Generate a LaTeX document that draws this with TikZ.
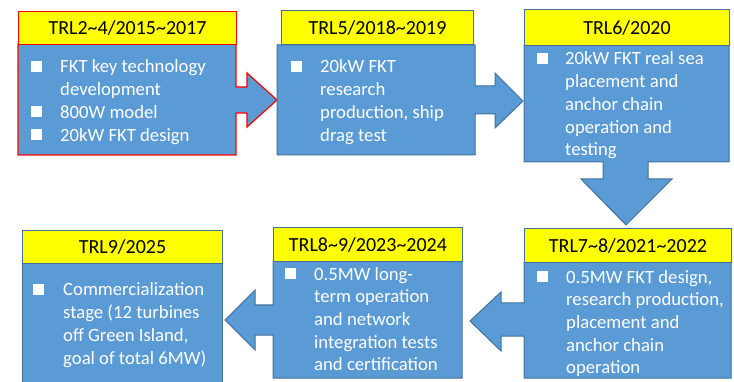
\documentclass[tikz,border=0pt]{standalone}
\usepackage{fontspec}
\setmainfont{Carlito}
\definecolor{boxblue}{HTML}{5B9BD5}
\definecolor{edgeblue}{HTML}{41719C}
\definecolor{hdryellow}{HTML}{FFFF00}
\definecolor{hdrred}{HTML}{FF0000}
\begin{document}
\begin{tikzpicture}[x=1pt,y=-1pt,
  callout/.style={fill=boxblue, draw=edgeblue, line width=1pt, line join=miter},
  redcallout/.style={fill=boxblue, draw=hdrred, line width=1.2pt, line join=miter},
  header/.style={fill=hdryellow, draw=edgeblue, line width=1pt, inner sep=0pt, anchor=north west,
    font=\fontsize{20}{24}\selectfont, text=black},
  redheader/.style={header, draw=hdrred, line width=1.2pt},
  bodytext/.style={anchor=base west, align=left, inner sep=0pt, text=white,
    font=\fontsize{18.7}{22.7}\selectfont},
  bulletsq/.style={fill=white}]
\useasboundingbox (0,0) rectangle (734,382);

% ---- callout bodies with arrows ----
% box 1 (red)
\draw[redcallout] (18,44) -- (236,44) -- (236,87) -- (247,87) -- (247,73) -- (277,100)
  -- (247,127) -- (247,113) -- (236,113) -- (236,155) -- (18,155) -- cycle;
% box 2
\draw[callout] (277,45) -- (475,45) -- (475,86) -- (495,86) -- (495,73) -- (523,101)
  -- (495,128) -- (495,114) -- (475,114) -- (475,155) -- (277,155) -- cycle;
% box 3 (down arrow)
\draw[callout] (524,45) -- (729,45) -- (729,162) -- (648,162) -- (648,179) -- (672,179)
  -- (626,225) -- (581,179) -- (603,179) -- (603,162) -- (524,162) -- cycle;
% box 4 (left arrow)
\draw[callout] (524,262) -- (731,262) -- (731,378) -- (524,378) -- (524,336) -- (501,336)
  -- (501,351) -- (470,321) -- (501,292) -- (501,303) -- (524,303) -- cycle;
% box 5 (left arrow)
\draw[callout] (273,261) -- (462,261) -- (462,378) -- (273,378) -- (273,335) -- (255,335)
  -- (255,350) -- (225,320) -- (255,290) -- (255,305) -- (273,305) -- cycle;
% box 6
\draw[callout] (22,263) rectangle (222,388);

% ---- headers ----
\node[redheader, minimum width=218pt, minimum height=33pt] (h1) at (18,11) {TRL2\textasciitilde4/2015\textasciitilde2017};
\node[header, minimum width=192pt, minimum height=34pt] (h2) at (281,10) {TRL5/2018\textasciitilde2019};
\node[header, minimum width=205pt, minimum height=36pt] (h3) at (524,9) {TRL6/2020};
\node[header, minimum width=207pt, minimum height=34pt] (h4) at (524,228) {TRL7\textasciitilde8/2021\textasciitilde2022};
\node[header, minimum width=189pt, minimum height=34pt] (h5) at (273,227) {TRL8\textasciitilde9/2023\textasciitilde2024};
\node[header, minimum width=200pt, minimum height=33pt] (h6) at (22,230) {TRL9/2025};

% ---- body texts (anchored at the baseline of the last line) ----
\node[bodytext] (t1) at (60,141.1) {FKT key technology\\development\\800W model\\20kW FKT design};
\node[bodytext] (t2) at (320,141.1) {20kW FKT\\research\\production, ship\\drag test};
\node[bodytext] (t3) at (565,155.8) {20kW FKT real sea\\placement and\\anchor chain\\operation and\\testing};
\node[bodytext] (t4) at (566,373.8) {0.5MW FKT design,\\research production,\\placement and\\anchor chain\\operation};
\node[bodytext] (t5) at (314,370.8) {0.5MW long-\\term operation\\and network\\integration tests\\and certification};
\node[bodytext] (t6) at (63,364.1) {Commercialization\\stage (12 turbines\\off Green Island,\\goal of total 6MW)};

% ---- bullets ----
\fill[bulletsq] (31,61) rectangle (42,72);
\fill[bulletsq] (31,106.4) rectangle (42,117.4);
\fill[bulletsq] (31,129) rectangle (42,140);
\fill[bulletsq] (291,61) rectangle (302,72);
\fill[bulletsq] (537,53) rectangle (548,64);
\fill[bulletsq] (537,271) rectangle (548,282);
\fill[bulletsq] (285,268) rectangle (296,279);
\fill[bulletsq] (33,284) rectangle (44,295);
\end{tikzpicture}
\end{document}
